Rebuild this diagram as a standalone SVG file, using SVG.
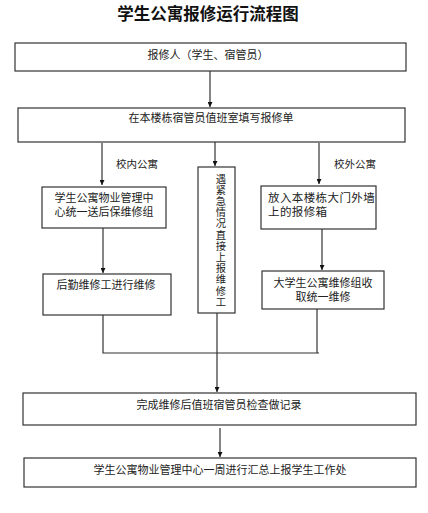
<svg xmlns="http://www.w3.org/2000/svg" width="428" height="513" viewBox="0 0 428 513">
<defs>
<marker id="ah" viewBox="0 0 10 10" refX="10" refY="5" markerWidth="5" markerHeight="5" orient="auto" markerUnits="userSpaceOnUse">
<path d="M0,0 L10,5 L0,10 Z" fill="#111"/>
</marker>
<style>
.box{fill:#fff;stroke:#333;stroke-width:1.2}
.t{font-family:"Liberation Serif","Noto Sans CJK SC",serif;font-size:11px;fill:#222}
.c{text-anchor:middle}
.v{font-size:10.3px}
.ln{fill:none;stroke:#333;stroke-width:1.2}
.ar{fill:none;stroke:#333;stroke-width:1.2;marker-end:url(#ah)}
</style>
</defs>
<rect width="428" height="513" fill="#fff"/>
<text x="208" y="20" text-anchor="middle" style="font-family:'Noto Sans CJK SC',sans-serif;font-size:16.5px;font-weight:bold;fill:#111">学生公寓报修运行流程图</text>

<g id="connectors">
<line class="ar" x1="210" y1="71" x2="210" y2="107"/>
<line class="ar" x1="215" y1="126" x2="215" y2="166"/>
<line class="ar" x1="102" y1="143" x2="102" y2="185"/>
<line class="ar" x1="319" y1="143" x2="319" y2="184"/>
<line class="ar" x1="103" y1="228" x2="103" y2="273"/>
<line class="ar" x1="322" y1="229" x2="322" y2="270"/>
<polyline class="ln" points="103,315 103,353 319,353"/>
<line class="ln" x1="317" y1="309" x2="317" y2="353"/>
<line class="ar" x1="217" y1="313" x2="217" y2="392"/>
<line class="ar" x1="220" y1="428" x2="220" y2="457"/>
<text class="t" x="116" y="168" style="font-size:10.5px">校内公寓</text>
<text class="t" x="334" y="168" style="font-size:10.5px">校外公寓</text>
</g>

<g id="n1">
<rect class="box" x="15" y="43" width="391" height="28"/>
<text class="t c" x="208" y="59">报修人（学生、宿管员）</text>
</g>
<g id="n2">
<rect class="box" x="18" y="108" width="387" height="34"/>
<text class="t c" x="211" y="122">在本楼栋宿管员值班室填写报修单</text>
</g>
<g id="n3">
<rect class="box" x="42" y="187" width="124" height="41"/>
<text class="t c" x="104" y="202">学生公寓物业管理中</text>
<text class="t c" x="104" y="216">心统一送后保维修组</text>
</g>
<g id="n4">
<rect class="box" x="198" y="167" width="37" height="146"/>
<text class="t c v" x="221" y="182.5">遇</text>
<text class="t c v" x="221" y="193.7">紧</text>
<text class="t c v" x="221" y="204.9">急</text>
<text class="t c v" x="221" y="216.1">情</text>
<text class="t c v" x="221" y="227.3">况</text>
<text class="t c v" x="221" y="238.5">直</text>
<text class="t c v" x="221" y="249.7">接</text>
<text class="t c v" x="221" y="260.9">上</text>
<text class="t c v" x="221" y="272.1">报</text>
<text class="t c v" x="221" y="283.3">维</text>
<text class="t c v" x="221" y="294.5">修</text>
<text class="t c v" x="221" y="305.7">工</text>
</g>
<g id="n5">
<rect class="box" x="261" y="186" width="115" height="43"/>
<text class="t" x="268" y="202" style="font-size:11.5px;letter-spacing:0.4px">放入本楼栋大门外墙</text>
<text class="t" x="268" y="216" style="font-size:11.5px;letter-spacing:0.4px">上的报修箱</text>
</g>
<g id="n6">
<rect class="box" x="43" y="274" width="128" height="41"/>
<text class="t c" x="106" y="289">后勤维修工进行维修</text>
</g>
<g id="n7">
<rect class="box" x="262" y="271" width="122" height="38"/>
<text class="t c" x="323" y="287">大学生公寓维修组收</text>
<text class="t c" x="323" y="301">取统一维修</text>
</g>
<g id="n8">
<rect class="box" x="23" y="393" width="393" height="32"/>
<text class="t c" x="219" y="409">完成维修后值班宿管员检查做记录</text>
</g>
<g id="n9">
<rect class="box" x="24" y="458" width="392" height="29"/>
<text class="t c" x="220" y="474">学生公寓物业管理中心一周进行汇总上报学生工作处</text>
</g>
</svg>
